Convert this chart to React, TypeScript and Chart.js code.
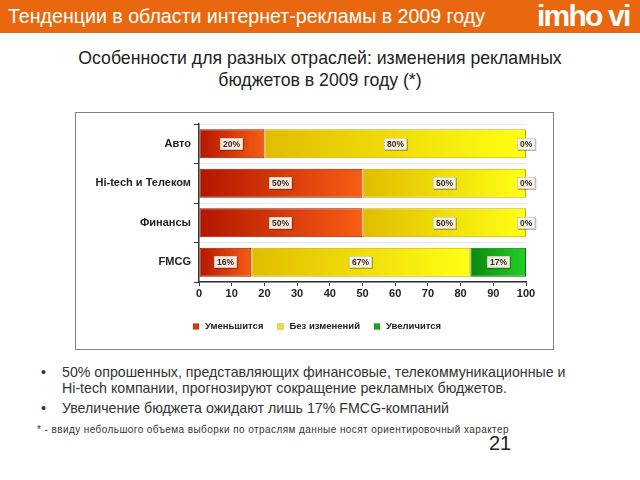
import React, { useEffect, useRef } from "react";
import { Chart, registerables } from "chart.js";

Chart.register(...registerables);

const categories = ["Авто", "Hi-tech и Телеком", "Финансы", "FMCG"];
const seriesNames = ["Уменьшится", "Без изменений", "Увеличится"];
const decreaseValues = [20, 50, 50, 16];
const unchangedValues = [80, 50, 50, 67];
const increaseValues = [0, 0, 0, 17];
const xTickValues = [0, 10, 20, 30, 40, 50, 60, 70, 80, 90, 100];

const allSeries = [decreaseValues, unchangedValues, increaseValues];
const gradientStops = [
  ["#b41500", "#f65e14"],
  ["#e0bc00", "#ffff12"],
  ["#0a880a", "#26d026"],
];
const borderColors = ["#8a1800", "#c9a600", "#0a6a0a"];
const legendColors = ["#d63c12", "#f2da34", "#1fa01f"];

const FONT = '"Liberation Sans", Arial, sans-serif';

const makeBg = (di: number) => (ctx: any) => {
  const chart = ctx.chart;
  const area = chart.chartArea;
  if (!area || ctx.type !== "data" || !chart.scales.x) return gradientStops[di][1];
  const xs = chart.scales.x;
  let start = 0;
  for (let k = 0; k < di; k++) start += allSeries[k][ctx.dataIndex];
  const v = allSeries[di][ctx.dataIndex];
  const x0 = xs.getPixelForValue(start);
  const x1 = xs.getPixelForValue(start + v);
  if (!isFinite(x0) || !isFinite(x1) || x1 - x0 < 1) return gradientStops[di][1];
  const g = chart.ctx.createLinearGradient(x0, 0, x1, 0);
  g.addColorStop(0, gradientStops[di][0]);
  g.addColorStop(1, gradientStops[di][1]);
  return g;
};

const valueLabels = {
  id: "valueLabels",
  afterDatasetsDraw(chart: any) {
    const c = chart.ctx;
    c.save();
    c.font = `bold 8.5px ${FONT}`;
    c.textAlign = "center";
    c.textBaseline = "middle";
    chart.data.datasets.forEach((ds: any, di: number) => {
      const meta = chart.getDatasetMeta(di);
      meta.data.forEach((bar: any, i: number) => {
        const v = ds.data[i];
        const p = bar.getProps(["x", "base", "y"], true);
        const cx = (p.x + p.base) / 2;
        const txt = v + "%";
        const w = c.measureText(txt).width + 6;
        const h = 12;
        const lx = Math.round(cx - w / 2);
        const ly = Math.round(p.y - h / 2);
        c.fillStyle = "rgba(0,0,0,0.28)";
        c.fillRect(lx + 1, ly + 1, w, h);
        c.fillStyle = "rgba(255,250,240,0.92)";
        c.fillRect(lx, ly, w, h);
        c.strokeStyle = "rgba(150,150,150,0.7)";
        c.lineWidth = 0.5;
        c.strokeRect(lx + 0.25, ly + 0.25, w - 0.5, h - 0.5);
        c.fillStyle = "#3a2a20";
        c.fillText(txt, lx + w / 2, ly + h / 2 + 0.5);
      });
    });
    c.restore();
  },
};

const customLegend = {
  id: "customLegend",
  afterDraw(chart: any) {
    const c = chart.ctx;
    c.save();
    c.font = `bold 9.5px ${FONT}`;
    c.textBaseline = "middle";
    c.textAlign = "left";
    let x = 117;
    const y = 213.5;
    chart.data.datasets.forEach((ds: any, di: number) => {
      c.fillStyle = legendColors[di];
      c.fillRect(x, y - 3, 6, 6);
      c.strokeStyle = "rgba(0,0,0,0.25)";
      c.lineWidth = 0.5;
      c.strokeRect(x, y - 3, 6, 6);
      c.fillStyle = "#222";
      c.fillText(ds.label, x + 12, y);
      x += 12 + c.measureText(ds.label).width + 14;
    });
    c.restore();
  },
};

function BudgetChart() {
  const ref = useRef<HTMLCanvasElement | null>(null);
  useEffect(() => {
    if (!ref.current) return;
    const chart = new Chart(ref.current, {
      type: "bar",
      data: {
        labels: categories,
        datasets: allSeries.map((vals, di) => ({
          label: seriesNames[di],
          data: vals,
          backgroundColor: makeBg(di),
          borderColor: borderColors[di],
          borderWidth: (ctx: any) => (allSeries[di][ctx.dataIndex] === 0 ? 0 : 1),
          borderSkipped: false,
          barPercentage: 0.73,
          categoryPercentage: 1,
        })),
      },
      options: {
        indexAxis: "y",
        animation: false,
        responsive: false,
        maintainAspectRatio: false,
        layout: { padding: { left: 0, right: 27, top: 11, bottom: 47 } },
        plugins: { legend: { display: false }, tooltip: { enabled: false } },
        scales: {
          x: {
            stacked: true,
            min: 0,
            max: 100,
            afterBuildTicks: (axis: any) => {
              axis.ticks = xTickValues.map((v) => ({ value: v }));
            },
            afterFit: (s: any) => {
              s.height = 20;
            },
            ticks: {
              font: { family: FONT, size: 11, weight: "bold" },
              color: "#222",
              padding: 1,
              maxRotation: 0,
            },
            grid: {
              drawOnChartArea: false,
              drawTicks: true,
              tickLength: 4,
              color: "#333",
              tickColor: "#333",
            },
            border: { display: true, color: "#333", width: 1.5 },
          },
          y: {
            stacked: true,
            afterFit: (s: any) => {
              s.width = 123;
            },
            ticks: {
              font: { family: FONT, size: 11, weight: "bold" },
              color: "#222",
              padding: 3,
            },
            grid: {
              offset: true,
              drawOnChartArea: true,
              drawTicks: true,
              tickLength: 5,
              color: "#e8e8e8",
              tickColor: "#333",
            },
            border: { display: true, color: "#333", width: 1.5 },
          },
        },
      },
      plugins: [valueLabels, customLegend],
    } as any);
    return () => chart.destroy();
  }, []);
  return (
    <canvas
      ref={ref}
      width={477}
      height={236}
      style={{ position: "absolute", left: 76, top: 113, width: 477, height: 236 }}
    />
  );
}

export default function App() {
  return (
    <div
      style={{
        position: "fixed",
        left: 0,
        top: 0,
        width: 640,
        height: 480,
        background: "#ffffff",
        overflow: "hidden",
        fontFamily: FONT,
      }}
    >
      <div
        style={{
          position: "absolute",
          left: 0,
          top: 0,
          width: 640,
          height: 33,
          background: "#e9680f",
        }}
      />
      <div
        style={{
          position: "absolute",
          left: 8,
          top: 4,
          fontSize: 19.6,
          lineHeight: "24px",
          color: "#ffffff",
          whiteSpace: "nowrap",
        }}
      >
        Тенденции в области интернет-рекламы в 2009 году
      </div>
      <div
        style={{
          position: "absolute",
          left: 537,
          top: 0,
          fontSize: 30,
          lineHeight: "32px",
          fontWeight: "bold",
          letterSpacing: "-1.8px",
          color: "#ffffff",
          whiteSpace: "nowrap",
        }}
      >
        imho vi
      </div>
      <div
        style={{
          position: "absolute",
          left: 0,
          top: 47,
          width: 640,
          textAlign: "center",
          fontSize: 17.7,
          lineHeight: "22px",
          color: "#222",
        }}
      >
        Особенности для разных отраслей: изменения рекламных
        <br />
        бюджетов в 2009 году (*)
      </div>
      <div
        style={{
          position: "absolute",
          left: 75,
          top: 112,
          width: 479,
          height: 238,
          boxSizing: "border-box",
          border: "1px solid #808080",
        }}
      />
      <BudgetChart />
      <div style={{ position: "absolute", left: 41, top: 364, fontSize: 14.2, lineHeight: "16px", color: "#333" }}>•</div>
      <div
        style={{
          position: "absolute",
          left: 62,
          top: 364,
          width: 570,
          fontSize: 14.2,
          lineHeight: "16px",
          color: "#333",
          whiteSpace: "nowrap",
        }}
      >
        50% опрошенных, представляющих финансовые, телекоммуникационные и
        <br />
        Hi-tech компании, прогнозируют сокращение рекламных бюджетов.
      </div>
      <div style={{ position: "absolute", left: 41, top: 400, fontSize: 14.2, lineHeight: "16px", color: "#333" }}>•</div>
      <div
        style={{
          position: "absolute",
          left: 62,
          top: 400,
          fontSize: 14.2,
          lineHeight: "16px",
          color: "#333",
          whiteSpace: "nowrap",
        }}
      >
        Увеличение бюджета ожидают лишь 17% FMCG-компаний
      </div>
      <div
        style={{
          position: "absolute",
          left: 37,
          top: 424,
          fontSize: 10,
          lineHeight: "12px",
          letterSpacing: "0.42px",
          color: "#333",
          whiteSpace: "nowrap",
        }}
      >
        * - ввиду небольшого объема выборки по отраслям данные носят ориентировочный характер
      </div>
      <div
        style={{
          position: "absolute",
          left: 489,
          top: 432,
          fontSize: 20,
          lineHeight: "22px",
          color: "#222",
        }}
      >
        21
      </div>
    </div>
  );
}
